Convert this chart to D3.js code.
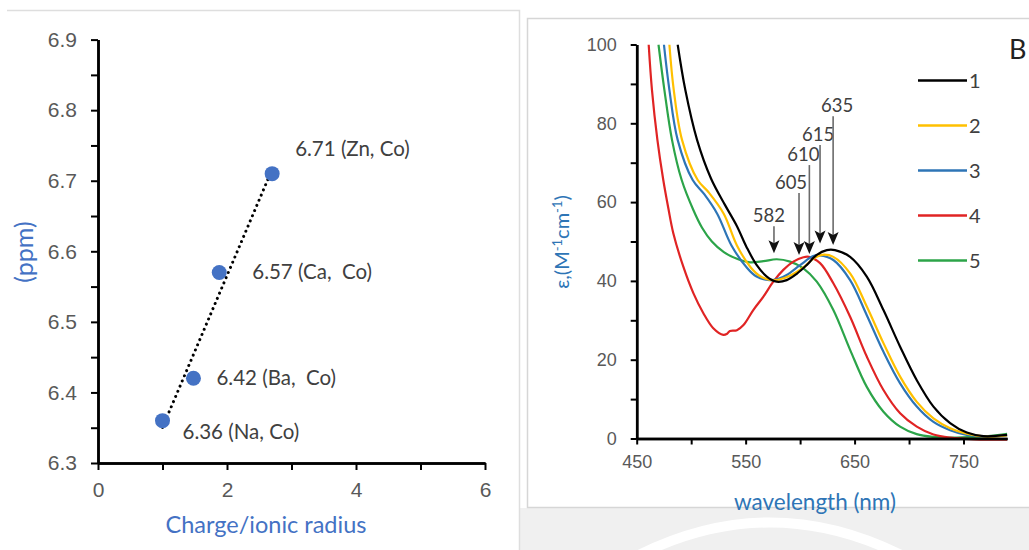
<!DOCTYPE html>
<html>
<head>
<meta charset="utf-8">
<script src="https://cdn.jsdelivr.net/npm/d3@7"></script>
<style>
  body { margin: 0; background: #fff; }
  svg { display: block; font-family: Lato, "Open Sans", sans-serif; }
  .ejes path.domain { stroke: #000; stroke-width: 2.5; }
  .ejes line { stroke: #000; stroke-width: 2; }
  .ejes text { fill: #595959; }
</style>
</head>
<body>
<div id="graf"></div>
<script>
// ---- panel A : shift vs charge/ionic radius
const ratio = [1, 1.48, 1.88, 2.7]
const shift = [6.36, 6.42, 6.57, 6.71]
const pointLabels = ["6.36 (Na, Co)", "6.42 (Ba,  Co)", "6.57 (Ca,  Co)", "6.71 (Zn, Co)"]
const xTicksA = [0, 2, 4, 6]
const xMinorA = [1, 3, 5]
const yTicksA = [6.3, 6.4, 6.5, 6.6, 6.7, 6.8, 6.9]
const yMinorA = [6.35, 6.45, 6.55, 6.65, 6.75, 6.85]

// ---- panel B : absorption spectra (wavelength nm, epsilon)
const wl1 = [487.6, 494.6, 505.4, 518.2, 531, 541.8, 551, 560.2, 569.4, 578.5, 587.7, 596.9, 606, 615.3, 624.5, 632, 645.9, 661.2, 676.5, 691.8, 707.1, 722.4, 737.7, 753, 768.3, 790]
const eps1 = [100, 88.5, 75.8, 66, 59.3, 54, 48.5, 44, 41.1, 39.8, 40.2, 41.8, 44, 46.6, 47.8, 47.8, 46.1, 41.1, 32.6, 23.3, 14.8, 8.1, 3.9, 1.5, 0.6, 0.9]
const wl2 = [480, 484, 491.6, 506, 516, 530, 542, 554.7, 563.8, 574, 580, 590.8, 603, 612, 620, 630.5, 645.9, 661.2, 676.5, 691.8, 707.1, 722.4, 737.7, 753, 771, 790]
const eps2 = [100, 88.5, 75.8, 65.6, 62.5, 57, 49, 43.4, 41.1, 40.2, 40.3, 41.3, 43.4, 45.6, 46.6, 46.1, 41.9, 33.5, 24.2, 15.7, 9.3, 5.1, 2.6, 1.2, 0.5, 0.8]
const wl3 = [475, 480, 487.6, 501.4, 512, 524, 537, 551, 560, 572, 580, 587.7, 600, 612, 618, 630.5, 645.9, 661.2, 676.5, 691.8, 707.1, 722.4, 737.7, 753, 770, 790]
const eps3 = [100, 88.5, 75.8, 65.6, 62, 57, 49, 43.4, 41.1, 40.2, 40.5, 41.5, 44, 46.3, 46.5, 45.3, 40.2, 31.3, 22, 14, 8.1, 4.2, 2.1, 0.9, 0.5, 0.8]
const wl4 = [461, 464, 469, 474.4, 479, 483.6, 492.8, 502, 511.2, 520.3, 529.5, 533, 535.5, 542, 548, 557, 566.3, 575.4, 584.6, 593.8, 603, 608, 618.3, 630.5, 645.9, 661.2, 676.5, 691.8, 707.1, 722.4, 737.7, 760, 790]
const eps4 = [100, 88.5, 75.8, 65.6, 58.5, 52.1, 43.6, 36.9, 31.8, 28, 26.3, 26.6, 27.3, 27.5, 28.8, 32.6, 36, 39.8, 42.8, 44.9, 46, 46.1, 44.5, 39.4, 30.9, 20.8, 12.3, 6.4, 3, 1, 0.2, -0.2, -0.3]
const wl5 = [470, 475.4, 482.4, 491.3, 502, 510, 519, 530, 542, 554, 566.3, 578.5, 590.8, 603, 615.3, 630.5, 645.9, 661.2, 676.5, 691.8, 707, 722, 740, 760, 775, 790]
const eps5 = [100, 88.5, 75.8, 65.6, 58, 53.5, 50, 47.3, 45.6, 44.7, 45, 45.5, 44.9, 43.2, 39.8, 32.6, 22.5, 13.1, 6.8, 3, 1.1, 0.4, 0.2, 0.4, 0.7, 1.2]
const seriesNames = ["1", "2", "3", "4", "5"]
const seriesColors = ["#000000", "#FFC000", "#2E75B6", "#E02424", "#2CA449"]

const peakLabels = ["582", "605", "610", "615", "635"]
const arrowWl = [576, 599, 608.5, 618.3, 630.3]
const arrowTip = [47, 46.6, 46.8, 49.5, 49.1]
const arrowTail = [53.9, 62.3, 69.4, 74.5, 81.8]

const xTicksB = [450, 550, 650, 750]
const xMinorB = [500, 600, 700]
const yTicksB = [0, 20, 40, 60, 80, 100]
const yMinorB = [10, 30, 50, 70, 90]

const anchoTotal = 1029
const altoTotal = 550

const svg = d3.select("#graf").append("svg")
  .attr("width", anchoTotal)
  .attr("height", altoTotal)

// background / panel frames
svg.append("rect").attr("x", 519).attr("y", 508).attr("width", 510).attr("height", 42).attr("fill", "#f0f0f0")
svg.append("path")
  .attr("d", "M 620 565 Q 770 480 920 565")
  .attr("fill", "none").attr("stroke", "#fff").attr("stroke-width", 10)
svg.append("path")
  .attr("d", "M 7 10.5 H 519.5 V 550")
  .attr("fill", "none").attr("stroke", "#dedede").attr("stroke-width", 1.5)
svg.append("rect")
  .attr("x", 527.5).attr("y", 18.5).attr("width", 520).attr("height", 489)
  .attr("fill", "#fff").attr("stroke", "#d6d6d6").attr("stroke-width", 1.5)

// ================= panel A
const xA = d3.scaleLinear().domain([0, 6]).range([98, 485])
const yA = d3.scaleLinear().domain([6.3, 6.9]).range([463, 39.6])

const gA = svg.append("g")

gA.append("g").attr("class", "ejes")
  .attr("transform", `translate(0, ${yA(6.3)})`)
  .call(d3.axisBottom(xA).tickValues(xMinorA).tickSize(7).tickSizeOuter(0).tickFormat(""))
gA.append("g").attr("class", "ejes")
  .attr("transform", `translate(0, ${yA(6.3)})`)
  .call(d3.axisBottom(xA).tickValues(xTicksA).tickSize(7).tickSizeOuter(0).tickPadding(12).tickFormat(d3.format("d")))
  .selectAll("text").style("font-size", "21px")
gA.append("g").attr("class", "ejes")
  .attr("transform", `translate(${xA(0)}, 0)`)
  .call(d3.axisLeft(yA).tickValues(yMinorA).tickSize(7).tickSizeOuter(0).tickFormat(""))
gA.append("g").attr("class", "ejes")
  .attr("transform", `translate(${xA(0)}, 0)`)
  .call(d3.axisLeft(yA).tickValues(yTicksA).tickSize(7).tickSizeOuter(0).tickPadding(14).tickFormat(d3.format(".1f")))
  .selectAll("text").style("font-size", "21px")

// least squares trend line
const mx = d3.mean(ratio), my = d3.mean(shift)
const slope = d3.sum(ratio, (d, i) => (d - mx) * (shift[i] - my)) / d3.sum(ratio, (d) => (d - mx) ** 2)
const icpt = my - slope * mx
const xr = d3.extent(ratio)
gA.append("line")
  .attr("x1", xA(xr[0])).attr("y1", yA(icpt + slope * xr[0]))
  .attr("x2", xA(xr[1])).attr("y2", yA(icpt + slope * xr[1]))
  .attr("stroke", "#000").attr("stroke-width", 3)
  .attr("stroke-linecap", "round").attr("stroke-dasharray", "0.01 5.6")

gA.selectAll("circle").data(ratio).enter().append("circle")
  .attr("cx", (d) => xA(d))
  .attr("cy", (d, i) => yA(shift[i]))
  .attr("r", 7.5)
  .attr("fill", "#4472C4")

const labelDx = [20, 23, 33, 23]
const labelDy = [18, 7, 7, -18]
gA.selectAll(".plab").data(pointLabels).enter().append("text")
  .attr("class", "plab")
  .attr("x", (d, i) => xA(ratio[i]) + labelDx[i])
  .attr("y", (d, i) => yA(shift[i]) + labelDy[i])
  .style("white-space", "pre")
  .style("font-size", "20.5px").attr("fill", "#404040")
  .text((d) => d)

gA.append("text")
  .attr("x", 266).attr("y", 533)
  .attr("text-anchor", "middle").attr("fill", "#4472C4")
  .style("font-size", "23.5px")
  .text("Charge/ionic radius")

gA.append("text")
  .attr("transform", "translate(33, 252) rotate(-90)")
  .attr("text-anchor", "middle").attr("fill", "#4472C4")
  .style("font-size", "25px")
  .text("(ppm)")

// ================= panel B
const xB = d3.scaleLinear().domain([450, 790]).range([636.7, 1007.1])
const yB = d3.scaleLinear().domain([0, 100]).range([438.5, 44.5])

const gB = svg.append("g")

gB.append("clipPath").attr("id", "clip").append("rect")
  .attr("x", xB(450)).attr("y", yB(100)).attr("width", xB(790) - xB(450) + 2).attr("height", yB(-3) - yB(100))

const series = [[wl1, eps1], [wl2, eps2], [wl3, eps3], [wl4, eps4], [wl5, eps5]]
const line = d3.line().x((d) => xB(d[0])).y((d) => yB(d[1])).curve(d3.curveCatmullRom.alpha(0.5))

// draw order: green, red, blue, yellow, black on top
const order = [4, 3, 2, 1, 0]
order.forEach((k) => {
  const pts = series[k][0].map((w, i) => [w, series[k][1][i]])
  gB.append("path")
    .attr("d", line(pts))
    .attr("fill", "none")
    .attr("stroke", seriesColors[k])
    .attr("stroke-width", 2.2)
    .attr("clip-path", "url(#clip)")
})

gB.append("g").attr("class", "ejes")
  .attr("transform", `translate(0, ${yB(0)})`)
  .call(d3.axisBottom(xB).tickValues(xMinorB).tickSize(6).tickSizeOuter(0).tickFormat(""))
gB.append("g").attr("class", "ejes")
  .attr("transform", `translate(0, ${yB(0)})`)
  .call(d3.axisBottom(xB).tickValues(xTicksB).tickSize(6).tickSizeOuter(0).tickPadding(11))
  .selectAll("text").style("font-size", "18px")
gB.append("g").attr("class", "ejes")
  .attr("transform", `translate(${xB(450)}, 0)`)
  .call(d3.axisLeft(yB).tickValues(yMinorB).tickSize(6).tickSizeOuter(0).tickFormat(""))
gB.append("g").attr("class", "ejes")
  .attr("transform", `translate(${xB(450)}, 0)`)
  .call(d3.axisLeft(yB).tickValues(yTicksB).tickSize(6).tickSizeOuter(0).tickPadding(14))
  .selectAll("text").style("font-size", "18px")

// peak arrows
const peakDx = [-5, -8, -6, -2, 4]
const arrows = gB.selectAll(".arrow").data(peakLabels).enter().append("g").attr("class", "arrow")
arrows.append("line")
  .attr("x1", (d, i) => xB(arrowWl[i])).attr("x2", (d, i) => xB(arrowWl[i]))
  .attr("y1", (d, i) => yB(arrowTail[i])).attr("y2", (d, i) => yB(arrowTip[i]) - 10)
  .attr("stroke", "#6a6a6a").attr("stroke-width", 1.6)
arrows.append("path")
  .attr("d", (d, i) => {
    const x = xB(arrowWl[i]), y = yB(arrowTip[i])
    return `M ${x} ${y} L ${x - 5.5} ${y - 13} L ${x} ${y - 10} L ${x + 5.5} ${y - 13} Z`
  })
  .attr("fill", "#111")
arrows.append("text")
  .attr("x", (d, i) => xB(arrowWl[i]) + peakDx[i])
  .attr("y", (d, i) => yB(arrowTail[i]) - 4)
  .attr("text-anchor", "middle")
  .style("font-size", "18.5px").attr("fill", "#404040")
  .text((d) => d)

// legend
const leg = gB.selectAll(".leg").data(seriesNames).enter().append("g").attr("class", "leg")
  .attr("transform", (d, i) => `translate(918, ${80.5 + i * 45})`)
leg.append("line").attr("x1", 0).attr("x2", 49)
  .attr("stroke", (d, i) => seriesColors[i]).attr("stroke-width", 2.5)
leg.append("text").attr("x", 51).attr("y", 7)
  .style("font-size", "20px").attr("fill", "#404040")
  .text((d) => d)

gB.append("text")
  .attr("x", 815).attr("y", 510)
  .attr("text-anchor", "middle").attr("fill", "#2E75B6")
  .style("font-size", "22.5px")
  .text("wavelength (nm)")

const yt = gB.append("text")
  .attr("transform", "translate(569, 242) rotate(-90)")
  .attr("text-anchor", "middle").attr("fill", "#2E75B6")
  .style("font-size", "20px")
yt.append("tspan").text("ε,(M")
yt.append("tspan").attr("dy", -7).style("font-size", "13px").text("-1")
yt.append("tspan").attr("dy", 7).text("cm")
yt.append("tspan").attr("dy", -7).style("font-size", "13px").text("-1")
yt.append("tspan").attr("dy", 7).text(")")

gB.append("text")
  .attr("x", 1009).attr("y", 59)
  .style("font-size", "27px").attr("fill", "#222")
  .text("B")
</script>
</body>
</html>
